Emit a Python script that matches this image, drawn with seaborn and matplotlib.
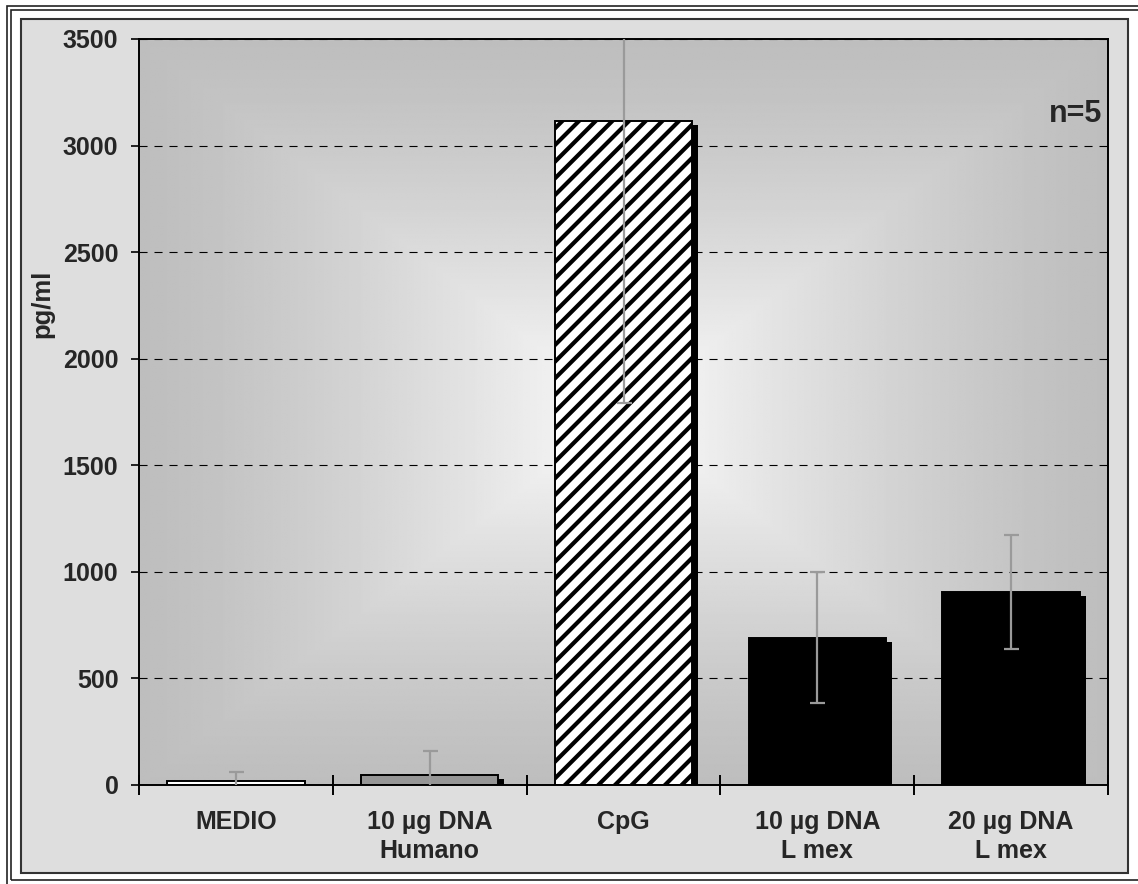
import numpy as np
import pandas as pd
import seaborn as sns
import matplotlib.pyplot as plt
import matplotlib.patheffects as pe
from matplotlib.patches import Rectangle
from matplotlib.ticker import FixedLocator

# ---------------------------------------------------------
# Data
# ---------------------------------------------------------
categories = ["MEDIO", "10 µg DNA\nHumano", "CpG", "10 µg DNA\nL mex", "20 µg DNA\nL mex"]
values = [20, 47, 3116, 692, 907]
errors = [42, 113, 1324, 308, 268]
bar_colors = ["white", "#969696", "white", "black", "black"]
y_ticks = [0, 500, 1000, 1500, 2000, 2500, 3000, 3500]
n_label = "n=5"

df = pd.DataFrame({"group": categories, "pgml": values})

# ---------------------------------------------------------
# Style
# ---------------------------------------------------------
sns.set_style("white")
plt.rcParams["font.family"] = ["Liberation Sans", "DejaVu Sans"]
plt.rcParams["font.weight"] = "bold"
plt.rcParams["lines.scale_dashes"] = False
plt.rcParams["hatch.linewidth"] = 3.0
plt.rcParams["hatch.color"] = "black"

W, H = 1138, 884
fig = plt.figure(figsize=(W / 100, H / 100), dpi=100, facecolor="white")

# outer double border + grey chart area (pixel boxes converted to figure fraction)
def fig_rect(x0, y0, x1, y1, **kw):
    r = Rectangle((x0 / W, 1 - y1 / H), (x1 - x0) / W, (y1 - y0) / H,
                  transform=fig.transFigure, zorder=-5, **kw)
    fig.patches.append(r)

fig_rect(7, 6, 1150, 895, facecolor="none", edgecolor="#222222", lw=1.2)
fig_rect(11, 10, 1146, 880, facecolor="none", edgecolor="#222222", lw=1.2)
fig_rect(21, 19, 1128, 873, facecolor="#dedede", edgecolor="#333333", lw=1.5)

ax = fig.add_axes([139 / W, 1 - 785 / H, (1108 - 139) / W, (785 - 39) / H])
ax.set_facecolor("none")

# ---------------------------------------------------------
# Plot-area "from centre" grey gradient
# ---------------------------------------------------------
u = np.linspace(-1, 1, 400)
v = np.linspace(-1, 1, 400)
U, V = np.meshgrid(u, v)
t = np.maximum(np.abs(U), np.abs(V))
grad = 0.745 + 0.24 * (1 - t) ** 1.3
ax.imshow(grad, extent=(-0.5, 4.5, 0, 3500), aspect="auto", cmap="gray",
          vmin=0, vmax=1, zorder=0, interpolation="bilinear")

# ---------------------------------------------------------
# Bars
# ---------------------------------------------------------
sns.barplot(data=df, x="group", y="pgml", hue="group", palette=bar_colors,
            legend=False, width=0.71, edgecolor="black", linewidth=1.4,
            errorbar=None, saturation=1, ax=ax, zorder=2)

shadow = [pe.SimplePatchShadow(offset=(4.3, -2.9), shadow_rgbFace="black", alpha=1.0),
          pe.Normal()]
for i, bar in enumerate(ax.patches):
    bar.set_path_effects(shadow)
    if i == 2:
        bar.set_hatch("//")

ax.errorbar(x=np.arange(len(categories)), y=values, yerr=errors, fmt="none",
            ecolor="#9a9a9a", elinewidth=1.6, capsize=5.4, capthick=1.6, zorder=3)

# ---------------------------------------------------------
# Axes, ticks, grid
# ---------------------------------------------------------
ax.set_xlim(-0.5, 4.5)
ax.set_ylim(0, 3500)
ax.set_yticks(y_ticks)
ax.set_yticklabels([str(t) for t in y_ticks], fontsize=18, fontweight="bold")
ax.yaxis.grid(True, color="black", lw=0.8, linestyle=(0, (5.8, 5.0)))
ax.xaxis.grid(False)
ax.set_axisbelow(True)

# category boundaries as major ticks, names on minor ticks
ax.set_xticks(np.arange(-0.5, 5.0, 1.0))
ax.set_xticklabels([])
ax.xaxis.set_minor_locator(FixedLocator(np.arange(len(categories))))
ax.set_xticklabels(categories, minor=True, fontsize=18, fontweight="bold",
                   linespacing=1.25)
ax.tick_params(axis="x", which="major", direction="inout", length=15, width=1.4,
               color="black", bottom=True)
ax.tick_params(axis="x", which="minor", length=0, pad=18)
ax.tick_params(axis="y", direction="out", length=5.8, width=1.2, color="black",
               pad=9, left=True)

for s in ax.spines.values():
    s.set_visible(True)
    s.set_color("black")
    s.set_linewidth(1.4)

ax.set_xlabel("")
ax.set_ylabel("pg/ml", fontsize=18.5, fontweight="bold")
ax.yaxis.set_label_coords(-0.087, 0.645)

ax.text(0.994, 0.9, n_label, transform=ax.transAxes, ha="right", va="center",
        fontsize=22, fontweight="bold", zorder=5)

fig.savefig("out.png", dpi=100)
plt.close(fig)
